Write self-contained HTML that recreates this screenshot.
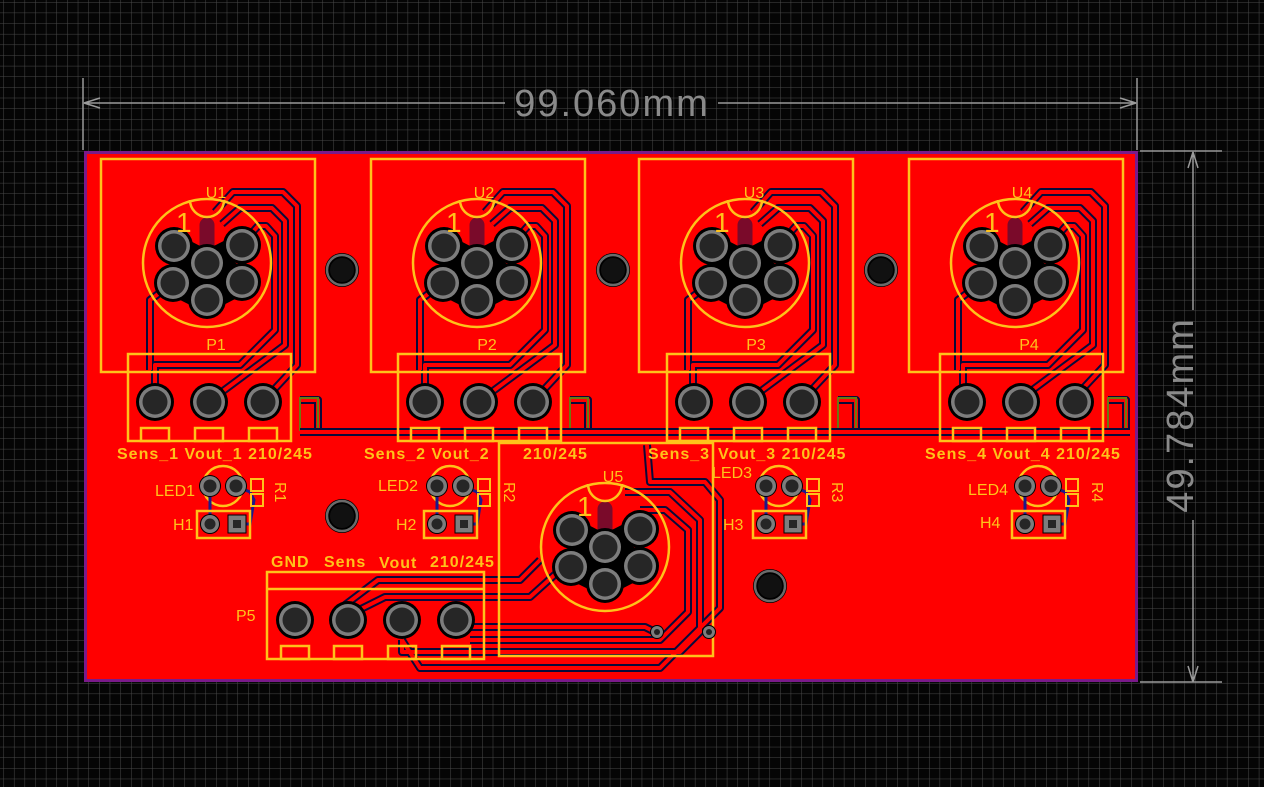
<!DOCTYPE html>
<html><head><meta charset="utf-8"><style>
html,body{margin:0;padding:0;background:#000;}
svg{display:block;}
text{font-family:"Liberation Sans",sans-serif;}
</style></head><body>
<svg width="1264" height="787" viewBox="0 0 1264 787" xmlns="http://www.w3.org/2000/svg">
<defs>
<pattern id="grid" x="3.3" y="2" width="10.64" height="10.64" patternUnits="userSpaceOnUse">
<path d="M0 0 H10.64 M0 0 V10.64" stroke="#4a4a4a" stroke-width="1" fill="none"/>
</pattern>
<g id="pad"><circle r="19" fill="#000"/><circle r="16" fill="#7d7d7d"/><circle r="12.5" fill="#262626"/></g>
<g id="hole"><circle r="17" fill="#000"/><circle r="15" fill="none" stroke="#6a6a6a" stroke-width="2.5"/><circle r="12" fill="#111"/></g>
<g id="via"><circle r="7" fill="#000"/><circle r="6" fill="#7d7d7d"/><circle r="3" fill="#222"/></g>
<g id="umod">
<rect x="-106" y="-104" width="214" height="213" fill="none" stroke="#ffc21a" stroke-width="2.5"/>
<path d="M-5,-2 L-34,20 L0,37 L35,19 L5,-2 Z M-33,-17 L0,0 L35,-18" fill="#000" stroke="#000" stroke-width="24" stroke-linejoin="round"/>
<path d="M0,-38 V0" stroke="#7a0a2a" stroke-width="15" stroke-linecap="round"/>
<path d="M-40,-22 L-33,-17 M42,-22 L35,-18 M-40,26 L-34,20 M42,26 L35,19 M0,48 L0,37" stroke="#7a0a2a" stroke-width="12" stroke-linecap="round"/>
<use href="#pad" x="0" y="0"/><use href="#pad" x="-33" y="-17"/><use href="#pad" x="35" y="-18"/>
<use href="#pad" x="-34" y="20"/><use href="#pad" x="35" y="19"/><use href="#pad" x="0" y="37"/>
<circle r="64" fill="none" stroke="#ffc21a" stroke-width="2.5"/>
<path d="M-17,-63 A17 17 0 0 0 17 -63" fill="none" stroke="#ffc21a" stroke-width="2.5"/>
</g>
<g id="pmod">
<rect x="-81" y="-48" width="163" height="87" fill="none" stroke="#ffc21a" stroke-width="2.5"/>
<rect x="-68" y="26" width="28" height="13" fill="none" stroke="#ffc21a" stroke-width="2.5"/>
<rect x="-14" y="26" width="28" height="13" fill="none" stroke="#ffc21a" stroke-width="2.5"/>
<rect x="40" y="26" width="28" height="13" fill="none" stroke="#ffc21a" stroke-width="2.5"/>
<use href="#pad" x="-54" y="0"/><use href="#pad" x="0" y="0"/><use href="#pad" x="54" y="0"/>
</g>
<g id="tr">
<path d="M215,212 L233,192 L283,192 L297,206 L297,365 L268,396 M222,224 L240,208 L272,208 L285,221 L285,345 L215,397 M242,244 L258,226 L266,226 L275,236 L275,330 L240,365 L155,365 L155,395 M173,283 L150,300 L150,370 M300,400 L318,400 L318,432" fill="none" stroke="#0a0a3a" stroke-width="8" stroke-linejoin="round"/>
<path d="M215,212 L233,192 L283,192 L297,206 L297,365 L268,396 M222,224 L240,208 L272,208 L285,221 L285,345 L215,397 M242,244 L258,226 L266,226 L275,236 L275,330 L240,365 L155,365 L155,395 M173,283 L150,300 L150,370 M300,400 L318,400 L318,432" fill="none" stroke="#ff0000" stroke-width="4" stroke-linejoin="round"/>
<rect x="300" y="398" width="18" height="32" fill="none" stroke="#6b7a10" stroke-width="2"/>
</g>
<g id="led">
<circle cx="13" cy="0" r="20" fill="none" stroke="#ffc21a" stroke-width="2.5"/>
<path d="M0,0 L0,38 M26,0 L40,6 L44,14 L40,38 L27,38" fill="none" stroke="#1a1a8a" stroke-width="3"/>
<circle r="11" fill="#000"/><circle r="10" fill="#7d7d7d"/><circle r="6.5" fill="#262626"/>
<circle cx="26" r="11" fill="#000"/><circle cx="26" r="10" fill="#7d7d7d"/><circle cx="26" r="6.5" fill="#262626"/>
<rect x="41" y="-7" width="12" height="12" fill="none" stroke="#ffc21a" stroke-width="2"/>
<rect x="41" y="8" width="12" height="12" fill="none" stroke="#ffc21a" stroke-width="2"/>
<rect x="-13" y="25" width="53" height="27" fill="none" stroke="#ffc21a" stroke-width="2.5"/>
<circle cx="0" cy="38" r="10" fill="#000"/><circle cx="0" cy="38" r="9" fill="#7d7d7d"/><circle cx="0" cy="38" r="5.5" fill="#262626"/>
<rect x="18" y="29" width="18" height="18" fill="#7d7d7d" stroke="#000"/><rect x="23" y="34" width="8" height="8" fill="#262626"/>
</g>
</defs>
<rect width="1264" height="787" fill="#050505"/>
<rect width="1264" height="787" fill="url(#grid)"/>
<!-- dimensions -->
<g stroke="#9a9a9a" stroke-width="1.5" fill="none">
<path d="M83,78 V150 M1137,78 V150 M84,103 H505 M718,103 H1136 M84,103 l16,-5 M84,103 l16,5 M1136,103 l-16,-5 M1136,103 l-16,5"/>
<path d="M1140,151 H1222 M1140,682 H1222 M1193,152 V310 M1193,520 V682 M1193,152 l-5,16 M1193,152 l5,16 M1193,682 l-5,-16 M1193,682 l5,-16"/>
</g>
<text x="612" y="106" font-size="38" letter-spacing="2" fill="#8a8a8a" text-anchor="middle" dominant-baseline="middle">99.060mm</text>
<text transform="translate(1183,415) rotate(-90)" font-size="38" letter-spacing="2" fill="#8a8a8a" text-anchor="middle" dominant-baseline="middle">49.784mm</text>
<!-- board -->
<rect x="84" y="151" width="1054" height="531" fill="#7a1a8a"/>
<rect x="87" y="154" width="1048" height="525" fill="#ff0000"/>
<!-- traces -->
<use href="#tr"/><use href="#tr" x="270"/><use href="#tr" x="538"/><use href="#tr" x="808"/>
<path d="M300,432 H1130" stroke="#0a0a3a" stroke-width="8" fill="none"/>
<path d="M300,432 H1130" stroke="#ff0000" stroke-width="4" fill="none"/>
<g fill="none" stroke-linejoin="round">
<path d="M345,605 L378,580 L520,580 L540,560 M355,612 L385,597 L530,597 L560,570 M470,627 L645,627 L655,632 M470,640 L660,640 L688,612 L688,530 L665,510 L640,510 M402,640 L402,652 L680,652 L700,632 L700,520 L670,492 L625,492 M402,640 L420,668 L660,668 L720,608 L720,500 L705,482 L650,482 L647,445" stroke="#0a0a3a" stroke-width="8"/>
<path d="M345,605 L378,580 L520,580 L540,560 M355,612 L385,597 L530,597 L560,570 M470,627 L645,627 L655,632 M470,640 L660,640 L688,612 L688,530 L665,510 L640,510 M402,640 L402,652 L680,652 L700,632 L700,520 L670,492 L625,492 M402,640 L420,668 L660,668 L720,608 L720,500 L705,482 L650,482 L647,445" stroke="#ff0000" stroke-width="4"/>
</g>
<!-- modules -->
<use href="#umod" x="207" y="263"/><use href="#umod" x="477" y="263"/><use href="#umod" x="745" y="263"/><use href="#umod" x="1015" y="263"/>
<use href="#umod" x="605" y="547"/>
<use href="#pmod" x="209" y="402"/><use href="#pmod" x="479" y="402"/><use href="#pmod" x="748" y="402"/><use href="#pmod" x="1021" y="402"/>
<!-- P5 -->
<g fill="none" stroke="#ffc21a" stroke-width="2.5">
<rect x="267" y="572" width="217" height="87"/><path d="M267,589 H484"/>
<rect x="281" y="646" width="28" height="13"/><rect x="334" y="646" width="28" height="13"/><rect x="388" y="646" width="28" height="13"/><rect x="442" y="646" width="28" height="13"/>
</g>
<use href="#pad" x="295" y="620"/><use href="#pad" x="348" y="620"/><use href="#pad" x="402" y="620"/><use href="#pad" x="456" y="620"/>
<use href="#via" x="657" y="632"/><use href="#via" x="709" y="632"/>
<!-- holes -->
<use href="#hole" x="342" y="270"/><use href="#hole" x="613" y="270"/><use href="#hole" x="881" y="270"/><use href="#hole" x="342" y="516"/><use href="#hole" x="770" y="586"/>
<!-- LEDs -->
<use href="#led" x="210" y="486"/><use href="#led" x="437" y="486"/><use href="#led" x="766" y="486"/><use href="#led" x="1025" y="486"/>
<!-- text -->
<g fill="#ffc21a" font-size="16">
<text x="216" y="198" text-anchor="middle">U1</text><text x="484" y="198" text-anchor="middle">U2</text><text x="754" y="198" text-anchor="middle">U3</text><text x="1022" y="198" text-anchor="middle">U4</text><text x="613" y="482" text-anchor="middle">U5</text>
<text x="176" y="232" font-size="28">1</text><text x="446" y="232" font-size="28">1</text><text x="714" y="232" font-size="28">1</text><text x="984" y="232" font-size="28">1</text><text x="577" y="516" font-size="28">1</text>
<text x="216" y="350" text-anchor="middle">P1</text><text x="487" y="350" text-anchor="middle">P2</text><text x="756" y="350" text-anchor="middle">P3</text><text x="1029" y="350" text-anchor="middle">P4</text>
<text x="236" y="621">P5</text>
<text x="155" y="496">LED1</text><text x="378" y="491">LED2</text><text x="712" y="478">LED3</text><text x="968" y="495">LED4</text>
<text x="173" y="530">H1</text><text x="396" y="530">H2</text><text x="723" y="530">H3</text><text x="980" y="528">H4</text>
<text transform="translate(275,482) rotate(90)">R1</text><text transform="translate(504,482) rotate(90)">R2</text><text transform="translate(832,482) rotate(90)">R3</text><text transform="translate(1092,482) rotate(90)">R4</text>
</g>
<g fill="#ffc21a" font-size="16" font-weight="bold" letter-spacing="1">
<text x="117" y="459">Sens_1 Vout_1 210/245</text>
<text x="364" y="459">Sens_2 Vout_2</text>
<text x="523" y="459">210/245</text>
<text x="648" y="459">Sens_3</text>
<text x="718" y="459">Vout_3 210/245</text>
<text x="925" y="459">Sens_4 Vout_4 210/245</text>
<text x="271" y="567">GND</text><text x="324" y="567">Sens</text><text x="379" y="568">Vout</text><text x="430" y="567">210/245</text>
</g>
</svg>
</body></html>
